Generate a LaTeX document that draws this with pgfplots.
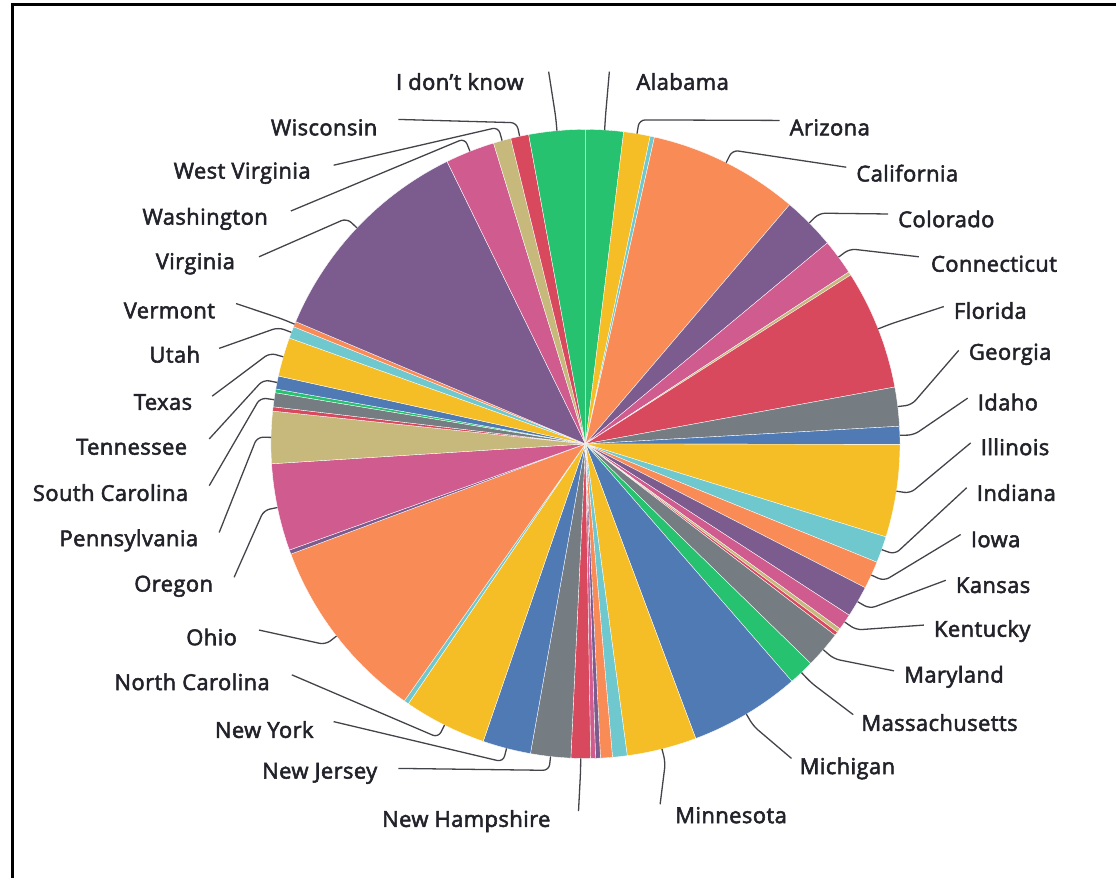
\documentclass[border=0pt]{standalone}
\usepackage{pgfplots}
\usepackage{pgfplotstable}
\pgfplotsset{compat=1.18}
\usepackage{fontspec}
\setmainfont{Open Sans}
\newfontfamily\labfont{Open Sans}[FakeBold=2.5, LetterSpace=2]
\definecolor{cgreen}{HTML}{26C26F}
\definecolor{cyellow}{HTML}{F5BE26}
\definecolor{cteal}{HTML}{6FC8CD}
\definecolor{corange}{HTML}{F98B57}
\definecolor{cpurple}{HTML}{7C5C8F}
\definecolor{cpink}{HTML}{D05B8F}
\definecolor{ctan}{HTML}{C7B87B}
\definecolor{cred}{HTML}{D8495D}
\definecolor{cgray}{HTML}{757C82}
\definecolor{cblue}{HTML}{507AB4}
\definecolor{ctext}{HTML}{22222A}
\pgfplotstableread[col sep=comma]{
state,pct,col,lx,ly,ex,ey,anc
Alabama,1.94,cgreen,634,82,607,72,west
Arizona,1.36,cyellow,788,128,778,121,west
Arkansas,0.22,cteal,0,0,0,0,none
California,7.72,corange,855,174,845,168,west
Colorado,2.72,cpurple,897,220,887,215,west
Connecticut,1.83,cpink,930,265,918,258,west
Delaware,0.18,ctan,0,0,0,0,none
Florida,6.13,cred,953,312,943,308,west
Georgia,2.00,cgray,968,356,958,352,west
Idaho,0.92,cblue,977,404,967,400,west
Illinois,4.75,cyellow,980,449,970,445,west
Indiana,1.36,cteal,976,495,966,490,west
Iowa,1.42,corange,970,542,960,537,west
Kansas,1.61,cpurple,955,588,945,583,west
Kentucky,0.83,cpink,933,634,923,628,west
Louisiana,0.22,ctan,0,0,0,0,none
Maine,0.19,cred,0,0,0,0,none
Maryland,1.89,cgray,903,680,893,674,west
Massachusetts,1.31,cgreen,860,726,852,718,west
Michigan,5.69,cblue,798,772,790,762,west
Minnesota,3.58,cyellow,673,819,658,808,west
Mississippi,0.75,cteal,0,0,0,0,none
Missouri,0.61,corange,0,0,0,0,none
Montana,0.25,cpurple,0,0,0,0,none
Nebraska,0.25,cpink,0,0,0,0,none
New Hampshire,1.00,cred,548,825,576,815,east
New Jersey,2.06,cgray,374,777,395,772,east
New York,2.47,cblue,310,733,330,725,east
North Carolina,4.25,cyellow,266,685,288,678,east
North Dakota,0.25,cteal,0,0,0,0,none
Ohio,9.53,corange,233,640,255,633,east
Oklahoma,0.22,cpurple,0,0,0,0,none
Oregon,4.47,cpink,209,589,230,580,east
Pennsylvania,2.67,ctan,194,543,215,535,east
Rhode Island,0.22,cred,0,0,0,0,none
South Carolina,0.72,cgray,184,495,205,488,east
South Dakota,0.19,cgreen,0,0,0,0,none
Tennessee,0.67,cblue,183,449,205,441,east
Texas,2.00,cyellow,188,404,208,398,east
Utah,0.61,cteal,196,356,215,350,east
Vermont,0.28,corange,211,312,232,305,east
Virginia,11.39,cpurple,231,265,255,258,east
Washington,2.53,cpink,264,220,287,212,east
West Virginia,0.90,ctan,307,174,330,166,east
Wisconsin,0.93,cred,374,128,395,120,east
I don’t know,2.89,cgreen,521,82,546,72,east
}\datatable
\begin{document}
\def\total{0}
\pgfplotsforeachungrouped \i in {0,...,45}{%
  \pgfplotstablegetelem{\i}{pct}\of\datatable
  \pgfmathsetmacro\total{\total+\pgfplotsretval}%
}
\begin{tikzpicture}
\useasboundingbox (0,0) rectangle (1116pt,882pt);
\begin{axis}[x=1pt,y=1pt,xmin=0,xmax=1116,ymin=0,ymax=882,
  scale only axis, hide axis, clip=false, at={(0,0)}, anchor=south west]
\def\cum{0}
\pgfplotsforeachungrouped \i in {0,...,45}{%
  \pgfplotstablegetelem{\i}{pct}\of\datatable \let\v\pgfplotsretval
  \pgfplotstablegetelem{\i}{col}\of\datatable \let\c\pgfplotsretval
  \pgfmathsetmacro\a{\cum}%
  \pgfmathsetmacro\b{\cum+\v*360/\total}%
  \edef\temp{\noexpand\addplot[fill=\c, draw=white, line width=0.35pt, domain=\a:\b, samples=60, forget plot] ({583+316*sin(x)},{436+316*cos(x)}) -- (axis cs:583,436) -- cycle;}%
  \temp
  \let\cum\b
}
\def\cum{0}
\pgfplotsforeachungrouped \i in {0,...,45}{%
  \pgfplotstablegetelem{\i}{pct}\of\datatable \let\v\pgfplotsretval
  \pgfplotstablegetelem{\i}{lx}\of\datatable \let\lx\pgfplotsretval
  \pgfplotstablegetelem{\i}{ly}\of\datatable \let\lyraw\pgfplotsretval
  \pgfplotstablegetelem{\i}{ex}\of\datatable \let\ex\pgfplotsretval
  \pgfplotstablegetelem{\i}{ey}\of\datatable \let\eyraw\pgfplotsretval
  \pgfplotstablegetelem{\i}{anc}\of\datatable \let\anc\pgfplotsretval
  \pgfplotstablegetelem{\i}{state}\of\datatable \let\name\pgfplotsretval
  \pgfmathsetmacro\m{\cum+\v*180/\total}%
  \ifdim\lx pt>0pt
    \pgfmathsetmacro\px{583+316*sin(\m)}%
    \pgfmathsetmacro\py{436+316*cos(\m)}%
    \pgfmathsetmacro\qx{583+330*sin(\m)}%
    \pgfmathsetmacro\qy{436+330*cos(\m)}%
    \pgfmathsetmacro\ly{882-\lyraw}%
    \pgfmathsetmacro\ey{882-\eyraw}%
    \edef\temp{\noexpand\draw[ctext!85, line width=1.3pt, rounded corners=6pt] (axis cs:\px,\py) -- (axis cs:\qx,\qy) -- (axis cs:\ex,\ey);
      \noexpand\node[anchor=\anc, inner sep=0pt, text=ctext, font=\noexpand\labfont\noexpand\fontsize{22}{25}\noexpand\selectfont] at (axis cs:\lx,\ly) {\name};}%
    \temp
  \fi
  \pgfmathsetmacro\cum{\cum+\v*360/\total}%
}
\end{axis}
\draw[line width=3pt, black] (7pt,0) -- (7pt,877pt) -- (1116pt,877pt);
\end{tikzpicture}
\end{document}
